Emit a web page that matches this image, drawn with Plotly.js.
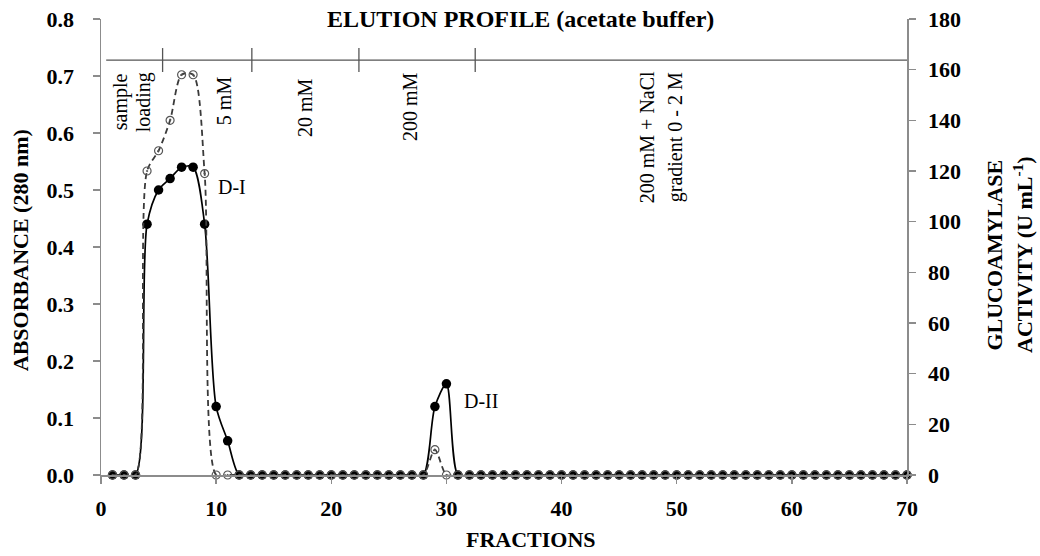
<!DOCTYPE html>
<html>
<head>
<meta charset="utf-8">
<script src="https://cdn.plot.ly/plotly-3.0.1.min.js"></script>
<style>html,body{margin:0;padding:0;background:#fff;}#chart{width:1040px;height:556px;}</style>
</head>
<body>
<div id="chart"></div>
<script>
// Fractions (x categories)
var fractions = [1,2,3,4,5,6,7,8,9,10,11,12,13,14,15,16,17,18,19,20,21,22,23,24,25,26,27,28,29,30,
                 31,32,33,34,35,36,37,38,39,40,41,42,43,44,45,46,47,48,49,50,51,52,53,54,55,56,57,58,59,60,
                 61,62,63,64,65,66,67,68,69,70];
// Absorbance at 280 nm (left axis)
var absorbance = [0,0,0,0.44,0.50,0.52,0.54,0.54,0.44,0.12,0.06,0,0,0,0,0,0,0,0,0,0,0,0,0,0,0,0,0,0.12,0.16,
                  0,0,0,0,0,0,0,0,0,0,0,0,0,0,0,0,0,0,0,0,0,0,0,0,0,0,0,0,0,0,
                  0,0,0,0,0,0,0,0,0,0];
// Glucoamylase activity, U/mL (right axis)
var activity = [0,0,0,120,128,140,158,158,119,0,0,0,0,0,0,0,0,0,0,0,0,0,0,0,0,0,0,0,10,0,
                0,0,0,0,0,0,0,0,0,0,0,0,0,0,0,0,0,0,0,0,0,0,0,0,0,0,0,0,0,0,
                0,0,0,0,0,0,0,0,0,0];
// Buffer step boundaries (fraction numbers)
var bufferSteps = [5.35, 13.1, 22.4, 32.5];
var xTicks = [0,10,20,30,40,50,60,70];
var leftTicks = [0,0.1,0.2,0.3,0.4,0.5,0.6,0.7,0.8];
var rightTicks = [0,20,40,60,80,100,120,140,160,180];

var F = 'Liberation Serif, Times New Roman, serif';
var axisGray = '#8c8c8c';

var traces = [
  {x: fractions, y: activity, yaxis: 'y2', type: 'scatter', mode: 'lines+markers',
   line: {color: '#3a3a3a', width: 1.8, dash: '6px,4px', shape: 'spline', smoothing: 0.8},
   marker: {symbol: 'circle-open-dot', size: 8, color: '#555', line: {width: 1.2, color: '#555'}},
   cliponaxis: false, hoverinfo: 'skip'},
  {x: fractions, y: absorbance, yaxis: 'y', type: 'scatter', mode: 'lines+markers',
   line: {color: '#000', width: 1.7, shape: 'spline', smoothing: 0.8},
   marker: {symbol: 'circle', size: 9.5, color: '#000'},
   cliponaxis: false, hoverinfo: 'skip'}
];

var shapes = [{type: 'line', xref: 'x', yref: 'y', x0: 0.45, x1: 70, y0: 0.728, y1: 0.728,
               line: {color: '#555', width: 1.3}}];
bufferSteps.forEach(function (s) {
  shapes.push({type: 'line', xref: 'x', yref: 'y', x0: s, x1: s, y0: 0.707, y1: 0.749,
               line: {color: '#555', width: 1.3}});
});

function rot(text, x, y) {
  return {text: text, xref: 'x', yref: 'y', x: x, y: y, textangle: -90, showarrow: false,
          font: {family: F, size: 20, color: '#000'}, xanchor: 'center', yanchor: 'middle'};
}
function lab(text, x, y, angle, size) {
  return {text: text, xref: 'paper', yref: 'paper', x: x, y: y, textangle: angle, showarrow: false,
          xanchor: 'center', yanchor: 'middle', font: {family: F, size: size, color: '#000'}};
}

var annotations = [
  rot('sample', 1.65, 0.654),
  rot('loading', 3.65, 0.654),
  rot('5 mM', 10.69, 0.656),
  rot('20 mM', 17.72, 0.644),
  rot('200 mM', 26.85, 0.646),
  rot('200 mM + NaCl', 47.44, 0.593),
  rot('gradient 0 - 2 M', 49.96, 0.593),
  {text: 'D-I', xref: 'x', yref: 'y', x: 11.4, y: 0.505, showarrow: false, xanchor: 'center', yanchor: 'middle',
   font: {family: F, size: 20, color: '#000'}},
  {text: 'D-II', xref: 'x', yref: 'y', x: 33.0, y: 0.130, showarrow: false, xanchor: 'center', yanchor: 'middle',
   font: {family: F, size: 20, color: '#000'}},
  lab('<b>ELUTION PROFILE (acetate buffer)</b>', 0.52, 1.0, 0, 24),
  lab('<b>ABSORBANCE (280 nm)</b>', -0.1005, 0.493, -90, 22),
  lab('<b>GLUCOAMYLASE</b>', 1.109, 0.483, -90, 22),
  lab('<b>ACTIVITY (U mL<sup>-1</sup>)</b>', 1.143, 0.483, -90, 22),
  lab('<b>FRACTIONS</b>', 0.5335, -0.1425, 0, 22)
];

var tickFont = {family: F, size: 22, color: '#000', weight: 'bold'};
var layout = {
  width: 1040, height: 556,
  margin: {l: 101, r: 133, t: 19, b: 81, pad: 0},
  paper_bgcolor: '#fff', plot_bgcolor: '#fff',
  showlegend: false,
  font: {family: F, color: '#000'},
  xaxis: {range: [0, 70], tickmode: 'array', tickvals: xTicks,
          showgrid: false, zeroline: false, showline: true, linecolor: axisGray, linewidth: 1.5,
          ticks: 'outside', ticklen: 7, tickcolor: axisGray, tickwidth: 1.5, ticklabelstandoff: 6,
          tickfont: tickFont, fixedrange: true},
  yaxis: {range: [0, 0.8], tickmode: 'array', tickvals: leftTicks, tickformat: '.1f',
          showgrid: false, zeroline: false, showline: true, linecolor: axisGray, linewidth: 1.5,
          ticks: 'outside', ticklen: 7, tickcolor: axisGray, tickwidth: 1.5, ticklabelstandoff: 14,
          tickfont: tickFont, fixedrange: true},
  yaxis2: {range: [0, 180], tickmode: 'array', tickvals: rightTicks, overlaying: 'y', side: 'right',
           showgrid: false, zeroline: false, showline: true, linecolor: axisGray, linewidth: 1.5,
           ticks: 'outside', ticklen: 7, tickcolor: axisGray, tickwidth: 1.5, ticklabelstandoff: 8,
           tickfont: tickFont, fixedrange: true},
  shapes: shapes,
  annotations: annotations
};

Plotly.newPlot('chart', traces, layout, {displayModeBar: false, staticPlot: true});
</script>
</body>
</html>
